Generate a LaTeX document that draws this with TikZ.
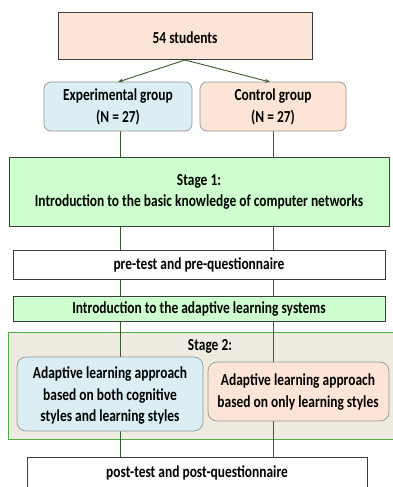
\documentclass[tikz,border=0pt]{standalone}
\usepackage{fontspec}
\setmainfont{Carlito}[FakeStretch=0.8]
\usetikzlibrary{arrows.meta}
\definecolor{peach}{RGB}{252,229,214}
\definecolor{paleblue}{RGB}{219,238,244}
\definecolor{palegreen}{RGB}{206,255,206}
\definecolor{stagebg}{RGB}{238,236,225}
\definecolor{stageline}{RGB}{80,170,70}
\definecolor{linkgreen}{RGB}{56,90,40}
\definecolor{boxline}{RGB}{60,60,60}
\definecolor{softline}{RGB}{150,150,150}
\tikzset{
  x=1pt, y=-1pt,
  every node/.style={font=\bfseries\fontsize{16.8}{21.5}\selectfont, align=center, inner sep=0pt},
  sqbox/.style={draw=boxline, line width=1pt},
  rbox/.style={draw=softline, line width=0.7pt, rounded corners=7pt},
  link/.style={draw=linkgreen, line width=0.9pt},
  arrowlink/.style={link, -{Stealth[length=5pt,width=4pt]}},
}
\begin{document}
\begin{tikzpicture}
\useasboundingbox (0,0) rectangle (393,487);
\clip (0,0) rectangle (393,487);

% stage 2 container
\draw[fill=stagebg, draw=stageline, line width=0.9pt] (8,332) rectangle (400,439);

% vertical connectors along the two columns
\draw[link] (120,131) -- (120,157);
\draw[link] (273,131) -- (273,157);
\draw[link] (120,226) -- (120,250);
\draw[link] (273,226) -- (273,250);
\draw[link] (120,279) -- (120,296);
\draw[link] (273,279) -- (273,296);
\draw[link] (120,321) -- (120,357);
\draw[link] (273,321) -- (273,362);
\draw[link] (120,430) -- (120,457);
\draw[link] (273,421) -- (273,457);

% boxes
\draw[sqbox, fill=peach] (58,13) rectangle (312,60);
\node (top) at (185,38) {54 students};
\coordinate (topb) at (185,60);

\draw[rbox, fill=paleblue] (44,82) rectangle (192,131);
\node (exp) at (118,107) {Experimental group\\(N = 27)};
\draw[rbox, fill=peach] (200,82) rectangle (346,131);
\node (ctl) at (273,107) {Control group\\(N = 27)};

\coordinate (expt) at (118,82);
\coordinate (ctlt) at (270,82);
\draw[arrowlink] (topb) -- (expt);
\draw[arrowlink] (topb) -- (ctlt);

\draw[sqbox, fill=palegreen] (9,157) rectangle (389,226);
\node (s1) at (199,192) {Stage 1:\\Introduction to the basic knowledge of computer networks};

\draw[sqbox, fill=white] (13,250) rectangle (385,279);
\node (pre) at (199,265) {pre-test and pre-questionnaire};

\draw[sqbox, fill=palegreen] (13,296) rectangle (385,321);
\node (intro) at (199,309) {Introduction to the adaptive learning systems};

\node (s2) at (210,346) {Stage 2:};
\draw[rbox, fill=paleblue, rounded corners=9pt] (17,357) rectangle (203,431);
\node (a1) at (110,396) {Adaptive learning approach\\based on both cognitive\\styles and learning styles};
\draw[rbox, fill=peach, rounded corners=9pt] (208,362) rectangle (389,421);
\node (a2) at (298,392) {Adaptive learning approach\\based on only learning styles};

\draw[sqbox, fill=white] (27,457) rectangle (367,500);
\node (post) at (197,473) {post-test and post-questionnaire};
\end{tikzpicture}
\end{document}
